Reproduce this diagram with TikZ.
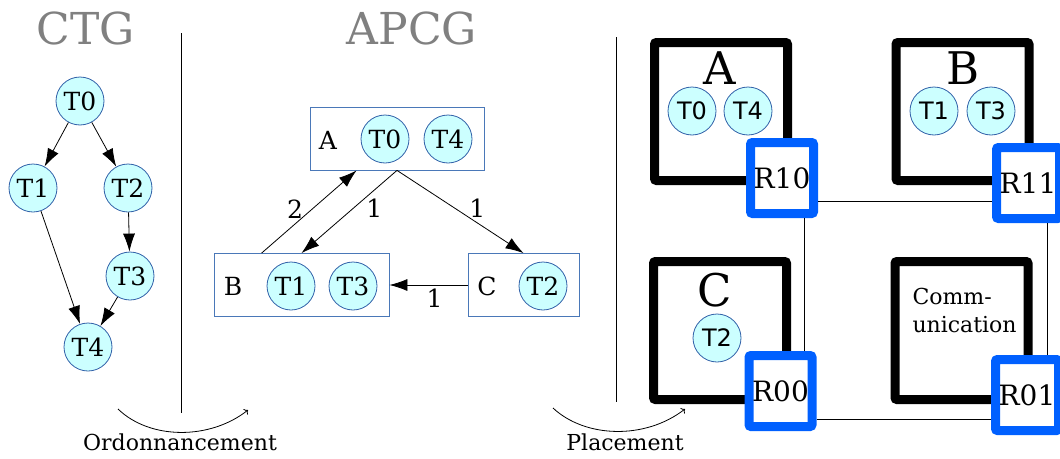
\documentclass[tikz,border=0pt]{standalone}
\usepackage{fontspec}
\setmainfont{DejaVu Serif}
\newfontfamily\tasksans{DejaVu Sans}
\usetikzlibrary{arrows.meta, positioning}

\definecolor{taskfill}{HTML}{CCFFFF}
\definecolor{taskline}{HTML}{3060A8}
\definecolor{boxline}{HTML}{4A78B8}
\definecolor{routerblue}{HTML}{0060FF}
\definecolor{titlegray}{HTML}{808080}

\begin{document}
\begin{tikzpicture}[
				x=1pt, y=-1pt,
				task/.style={circle, draw=taskline, line width=0.8pt, fill=taskfill, minimum size=48pt, inner sep=0pt, font=\fontsize{25}{25}\selectfont},
				meshtask/.style={task, font=\tasksans\fontsize{24}{24}\selectfont},
				procbox/.style={draw=boxline, line width=0.8pt, minimum height=63pt},
				tile/.style={draw, line width=9pt, rounded corners=2pt, minimum width=133pt, minimum height=138pt},
				router/.style={draw=routerblue, fill=white, line width=9pt, rounded corners=2pt, minimum width=63pt, minimum height=71pt, inner sep=0pt, font=\fontsize{28}{28}\selectfont},
				arrow/.style={-{Latex[length=18pt, width=12pt]}, line width=0.8pt},
				link/.style={line width=0.8pt},
				bigtitle/.style={text=titlegray, font=\fontsize{44}{44}\selectfont},
				txt/.style={font=\fontsize{22}{22}\selectfont},
				lab/.style={font=\fontsize{25}{25}\selectfont}
			]

			\useasboundingbox (0,0) rectangle (1060,458);

			% Titles and separators
			\node[bigtitle] (ctgtitle) at (86,28) {CTG};
			\node[bigtitle] (apcgtitle) at (412,28) {APCG};
			\draw[link] (181,33) -- (181,413);
			\draw[link] (616,37) -- (616,402);

			% CTG
			\node[task] (t0) at (80,101) {T0};
			\node[task] (t1) at (33,188) {T1};
			\node[task] (t2) at (128,188) {T2};
			\node[task] (t3) at (130,276) {T3};
			\node[task] (t4) at (88,347) {T4};

			\draw[arrow] (t0) -- (t1);
			\draw[arrow] (t0) -- (t2);
			\draw[arrow] (t2) -- (t3);
			\draw[arrow] (t1) -- (t4);
			\draw[arrow] (t3) -- (t4);

			% APCG
			\node[procbox, minimum width=174pt] (boxA) at (397,138.5) {};
			\node[procbox, minimum width=175pt] (boxB) at (301.5,285) {};
			\node[procbox, minimum width=111pt] (boxC) at (523.5,285) {};

			\node[lab] (labA) at (328,140) {A};
			\node[task] (a0) at (385,139) {T0};
			\node[task] (a4) at (448,139) {T4};
			\node[lab] (labB) at (233,286) {B};
			\node[task] (b1) at (291,286) {T1};
			\node[task] (b3) at (353,286) {T3};
			\node[lab] (labC) at (487,286) {C};
			\node[task] (c2) at (543,286) {T2};

			\draw[arrow] ([xshift=48pt]boxB.north west) -- ([xshift=47pt]boxA.south west)
				node[lab, midway, xshift=-14pt, yshift=3pt] {2};
			\draw[arrow] (boxA.south) -- (boxB.north)
				node[lab, midway, xshift=25pt, yshift=4pt] {1};
			\draw[arrow] (boxA.south) -- (boxC.north)
				node[lab, midway, xshift=17pt, yshift=4pt] {1};
			\draw[arrow] (boxC.west) -- (boxB.east)
				node[lab, midway, xshift=6pt, yshift=-13pt] {1};

			% Mesh tiles
			\node[tile] (tileA) at (721,111.5) {};
			\node[tile] (tileB) at (962.5,111.5) {};
			\node[tile] (tileC) at (720,330.5) {};
			\node[tile] (tileD) at (961.5,330.5) {};

			\node[font=\fontsize{45}{45}\selectfont] (nameA) at (720,68) {A};
			\node[meshtask] (m0) at (692,111) {T0};
			\node[meshtask] (m4) at (748,111) {T4};
			\node[font=\fontsize{45}{45}\selectfont] (nameB) at (963,68) {B};
			\node[meshtask] (m1) at (934,111) {T1};
			\node[meshtask] (m3) at (991,111) {T3};
			\node[font=\fontsize{45}{45}\selectfont] (nameC) at (715,290) {C};
			\node[meshtask] (m2) at (717,338) {T2};
			\node[anchor=base west, align=left, font=\fontsize{22}{28}\selectfont] (commtext) at (909,332) {Comm-\\unication};

			% Routers
			\node[router] (r10) at (782,178) {R10};
			\node[router] (r11) at (1028,183) {R11};
			\node[router] (r00) at (780.5,391) {R00};
			\node[router] (r01) at (1027,395) {R01};

			\draw[link] ([yshift=-23pt]r10.east) -- ([yshift=-23pt]r10.east -| r11.west);
			\draw[link] ([xshift=22pt]r10.south) -- ([xshift=22pt]r10.south |- r00.north);
			\draw[link] ([xshift=19pt]r11.south) -- ([xshift=19pt]r11.south |- r01.north);
			\draw[link] ([yshift=-28pt]r00.east) -- ([yshift=-28pt]r00.east -| r01.west);

			% Steps
			\coordinate (ordstart) at (118,409);
			\coordinate (ordend) at (248,410);
			\draw[->, link] (ordstart) .. controls (150,440) and (210,440) .. (ordend);
			\node[txt] (ordtext) at (180,442) {Ordonnancement};

			\coordinate (plastart) at (553,408);
			\coordinate (plaend) at (685,409);
			\draw[->, link] (plastart) .. controls (585,438) and (645,440) .. (plaend);
			\node[txt] (platext) at (625,442) {Placement};

		\end{tikzpicture}
\end{document}
